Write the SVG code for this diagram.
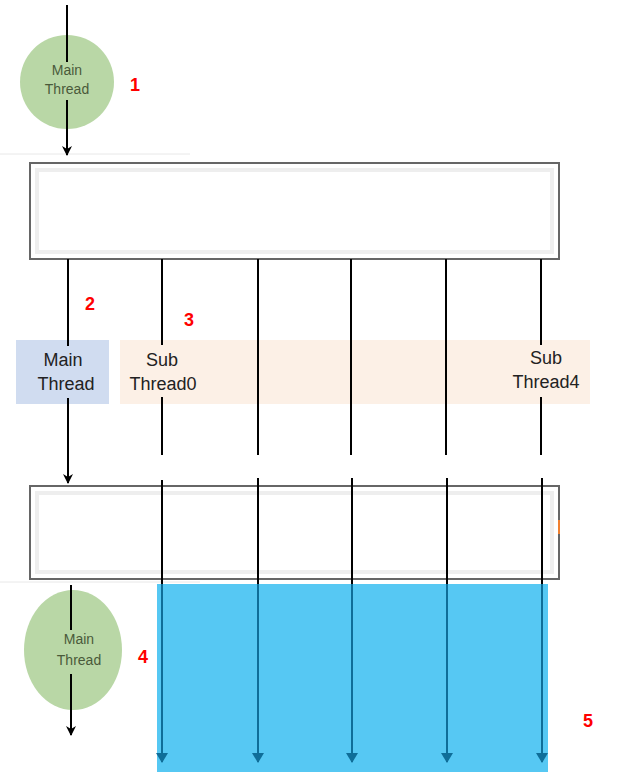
<svg xmlns="http://www.w3.org/2000/svg" width="640" height="772" viewBox="0 0 640 772">
<defs>
<marker id="ab" markerWidth="10" markerHeight="10" refX="9" refY="5" orient="auto" markerUnits="userSpaceOnUse"><path d="M0,0 L10,5 L0,10 L3,5 z" fill="#000"/></marker>
<marker id="au" markerWidth="10" markerHeight="12" refX="9" refY="6" orient="auto" markerUnits="userSpaceOnUse"><path d="M0,0 L10,6 L0,12 z" fill="#0f6e99"/></marker>
</defs>
<style>
.box{fill:#fff;stroke:#666;stroke-width:2}
.inner{fill:none;stroke:#eee;stroke-width:4}
.circ{fill:#b9d7a6}
.ct{font-family:"Liberation Sans",Arial,sans-serif;font-size:14px;fill:#4a5a3a;text-anchor:middle}
.lt{font-family:"Liberation Sans",Arial,sans-serif;font-size:18px;fill:#222;text-anchor:middle}
.num{font-family:"Liberation Sans",Arial,sans-serif;font-size:18px;font-weight:bold;fill:#f00}
.k{stroke:#000;stroke-width:2;fill:none}
.u{stroke:#0f6e99;stroke-width:2;fill:none}
</style>
<line x1="0" y1="154" x2="190" y2="154" stroke="#e8e8e8"/>
<line x1="0" y1="582" x2="200" y2="582" stroke="#e8e8e8"/>
<g id="box1"><rect class="box" x="30" y="163" width="529" height="96"/><rect class="inner" x="37" y="170" width="515" height="82"/></g>
<g id="box2"><rect class="box" x="30" y="486" width="529" height="93"/><rect class="inner" x="37" y="493" width="515" height="79"/><rect x="558" y="520" width="2" height="14" fill="#f08030"/></g>
<g id="blue"><rect x="157" y="584" width="391" height="188" fill="#56c8f3"/></g>
<g id="mainlabel"><rect x="16" y="340" width="93" height="64" fill="#d0dcf0"/></g>
<g id="sublabel"><rect x="120" y="340" width="470" height="64" fill="#fcf0e6"/></g>
<g id="circle1"><circle class="circ" cx="67" cy="82" r="47"/></g>
<g id="circle2"><ellipse class="circ" cx="73" cy="650" rx="49" ry="60"/></g>
<g id="connectors">
<line class="k" x1="67" y1="5" x2="67" y2="62"/><line class="k" x1="67" y1="100" x2="67" y2="155" marker-end="url(#ab)"/>
<line class="k" x1="68" y1="259" x2="68" y2="346"/><line class="k" x1="68" y1="398" x2="68" y2="483" marker-end="url(#ab)"/>
<line class="k" x1="71" y1="585" x2="71" y2="630"/><line class="k" x1="71" y1="674" x2="71" y2="735" marker-end="url(#ab)"/>
<line class="k" x1="162" y1="259" x2="162" y2="345"/><line class="k" x1="162" y1="397" x2="162" y2="455"/>
<line class="k" x1="258" y1="259" x2="258" y2="455"/>
<line class="k" x1="351" y1="259" x2="351" y2="455"/>
<line class="k" x1="446" y1="259" x2="446" y2="455"/>
<line class="k" x1="541" y1="259" x2="541" y2="345"/><line class="k" x1="541" y1="397" x2="541" y2="455"/>
<g>
<line class="k" x1="162" y1="480" x2="162" y2="584"/><line class="u" x1="162" y1="584" x2="162" y2="762" marker-end="url(#au)"/>
<line class="k" x1="258" y1="478" x2="258" y2="584"/><line class="u" x1="258" y1="584" x2="258" y2="762" marker-end="url(#au)"/>
<line class="k" x1="352" y1="478" x2="352" y2="584"/><line class="u" x1="352" y1="584" x2="352" y2="762" marker-end="url(#au)"/>
<line class="k" x1="447" y1="478" x2="447" y2="584"/><line class="u" x1="447" y1="584" x2="447" y2="762" marker-end="url(#au)"/>
<line class="k" x1="542" y1="478" x2="542" y2="584"/><line class="u" x1="542" y1="584" x2="542" y2="762" marker-end="url(#au)"/>
</g>
</g>
<g id="texts">
<text class="ct" x="67" y="75">Main</text><text class="ct" x="67" y="94">Thread</text>
<text class="ct" x="79" y="644">Main</text><text class="ct" x="79" y="665">Thread</text>
<text class="lt" x="63" y="366">Main</text><text class="lt" x="66" y="390">Thread</text>
<text class="lt" x="162" y="366">Sub</text><text class="lt" x="163" y="390">Thread0</text>
<text class="lt" x="546" y="364">Sub</text><text class="lt" x="546" y="388">Thread4</text>
<text class="num" x="130" y="91">1</text>
<text class="num" x="85" y="310">2</text>
<text class="num" x="184" y="326">3</text>
<text class="num" x="138" y="663">4</text>
<text class="num" x="583" y="727">5</text>
</g>
</svg>
